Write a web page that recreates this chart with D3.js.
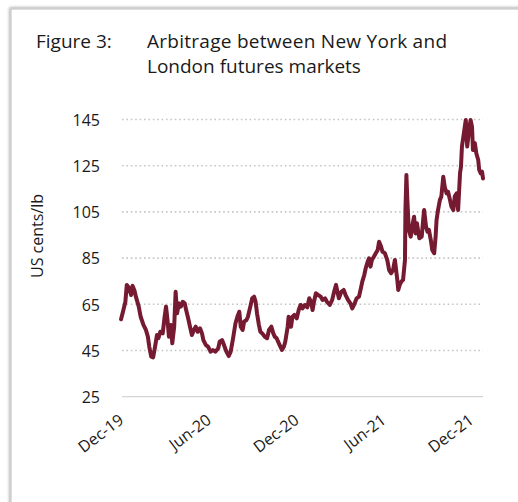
<!DOCTYPE html>
<html>
<head>
<meta charset="utf-8">
<script src="https://cdn.jsdelivr.net/npm/d3@7/dist/d3.min.js"></script>
<style>
  html, body { margin: 0; padding: 0; background: #fff; }
  svg { display: block; }
</style>
</head>
<body>
<div id="chart"></div>
<script>
// ---- Data ----
const titleLines = ["Arbitrage between New York and", "London futures markets"];
const figureLabel = "Figure 3:";
const yAxisTitle = "US cents/lb";
const yTicks = [25, 45, 65, 85, 105, 125, 145];
const xTickDates = ["2019-12-01", "2020-06-01", "2020-12-01", "2021-06-01", "2021-12-01"];
const xTickLabels = ["Dec-19", "Jun-20", "Dec-20", "Jun-21", "Dec-21"];

const dates = [
"2019-11-29","2019-12-03","2019-12-08","2019-12-11","2019-12-16","2019-12-20","2019-12-23","2019-12-27","2019-12-30",
"2020-01-05","2020-01-09","2020-01-15","2020-01-20","2020-01-24","2020-01-27","2020-01-31",
"2020-02-04","2020-02-08","2020-02-12","2020-02-15","2020-02-19","2020-02-24","2020-02-28",
"2020-03-02","2020-03-05","2020-03-08","2020-03-12","2020-03-15","2020-03-19","2020-03-22","2020-03-25","2020-03-29",
"2020-04-02","2020-04-06","2020-04-10","2020-04-13","2020-04-18","2020-04-21","2020-04-25","2020-04-29",
"2020-05-03","2020-05-07","2020-05-12","2020-05-16","2020-05-19","2020-05-24","2020-05-29",
"2020-06-03","2020-06-08","2020-06-13","2020-06-19","2020-06-22","2020-06-27",
"2020-07-01","2020-07-06","2020-07-11","2020-07-15","2020-07-20","2020-07-25","2020-07-29",
"2020-08-02","2020-08-05","2020-08-09","2020-08-12","2020-08-17","2020-08-20","2020-08-25","2020-08-29",
"2020-09-02","2020-09-05","2020-09-08","2020-09-12","2020-09-15","2020-09-19","2020-09-24","2020-09-29",
"2020-10-03","2020-10-08","2020-10-12","2020-10-15","2020-10-19","2020-10-22","2020-10-27","2020-10-30",
"2020-11-03","2020-11-06","2020-11-11","2020-11-13","2020-11-18","2020-11-21","2020-11-25","2020-11-30",
"2020-12-04","2020-12-08","2020-12-12","2020-12-17","2020-12-22","2020-12-26","2020-12-30",
"2021-01-02","2021-01-05","2021-01-09","2021-01-14","2021-01-19","2021-01-23","2021-01-28",
"2021-02-01","2021-02-07","2021-02-12","2021-02-16","2021-02-20","2021-02-23","2021-02-26",
"2021-03-03","2021-03-08","2021-03-12","2021-03-17","2021-03-22","2021-03-26","2021-03-31",
"2021-04-04","2021-04-09","2021-04-13","2021-04-16","2021-04-20","2021-04-23","2021-04-27","2021-04-30",
"2021-05-03","2021-05-06","2021-05-10","2021-05-14","2021-05-18","2021-05-21","2021-05-25","2021-05-28",
"2021-06-02","2021-06-07","2021-06-11","2021-06-15","2021-06-19","2021-06-23","2021-06-28","2021-06-30",
"2021-07-03","2021-07-07","2021-07-10","2021-07-14","2021-07-15","2021-07-17","2021-07-19","2021-07-22","2021-07-26","2021-07-29",
"2021-08-02","2021-08-05","2021-08-08","2021-08-13","2021-08-18","2021-08-21","2021-08-23","2021-08-27","2021-08-30",
"2021-09-02","2021-09-06","2021-09-09","2021-09-13","2021-09-16","2021-09-18","2021-09-21","2021-09-25","2021-09-28",
"2021-10-02","2021-10-05","2021-10-09","2021-10-12","2021-10-16","2021-10-19","2021-10-23","2021-10-26","2021-10-30",
"2021-11-02","2021-11-06","2021-11-08","2021-11-10","2021-11-14","2021-11-18","2021-11-21","2021-11-24","2021-11-28",
"2021-12-01","2021-12-03","2021-12-07","2021-12-10","2021-12-14","2021-12-16","2021-12-19","2021-12-22","2021-12-24"
];

const arbitrage = [
58.5,61.8,66,73.4,72,69,73,71,68.3,
64,59.6,56,53.9,51,46.6,42.3,
42,46.6,51.7,50.3,53.1,52.4,59.6,
64,58.2,51,56,48.1,55.3,70.4,61.1,65.4,
64,66.1,65.4,62.5,58.2,55.3,51.7,53.9,
55.3,53.1,54.6,52.4,49.5,47.4,46.6,
44.5,45.2,44.5,46,48.8,49.5,
47.4,44.5,42.6,44.5,50.3,56.8,59.6,
61.8,55.3,53.9,57.5,58.2,59.6,64,67.6,
68.3,66.1,61.1,56,53.1,52.4,51,50.3,
53.9,55.3,52.4,51,50.3,48.8,46.6,45.2,
46.6,48.8,55.3,59.6,55.3,59.6,60.4,58.9,
62.5,64.7,63.2,64.7,63.7,67.6,66.1,
62.5,66.1,69.8,69,68.3,66.9,67.6,
66.1,64.7,66.9,70.4,73.4,70.4,67.6,
70.4,71.2,69,66.9,65.4,63.2,65.4,
67.6,68.3,72,74.9,77.7,80.6,83.4,84.9,
81.3,84.2,85.6,87.1,88.5,92.1,90,87.8,
87.1,84.2,79.8,78.4,79.8,84.2,75.5,71.2,
73.4,75,75.5,84.2,105.8,121,110,97.2,94.3,98.6,
102.9,95.7,100.1,93.6,94.3,101.5,105.8,98.6,96.4,
97.2,92.8,88.5,87.1,94.3,101.5,105.8,110.2,111.7,
120.2,115.9,113,113.7,110.2,107.3,105.8,111.7,113,
105.8,121.7,124.6,133.3,139,144.8,133.3,139,144.8,
141.9,131.8,134.7,130.4,127.5,123.2,121.7,122.4,119.5
];

// ---- Layout ----
const W = 518, H = 502;
const plot = { left: 122, right: 483, top: 119.5, bottom: 396.7 };
const parse = d3.timeParse("%Y-%m-%d");

const svg = d3.select("#chart").append("svg")
  .attr("width", W).attr("height", H)
  .style("font-family", "'Open Sans', 'Noto Sans', sans-serif");

// frame with soft shadow
const defs = svg.append("defs");
const f = defs.append("filter").attr("id", "sh").attr("x", "-5%").attr("y", "-5%").attr("width", "110%").attr("height", "110%");
f.append("feGaussianBlur").attr("in", "SourceAlpha").attr("stdDeviation", 1.5).attr("result", "b");
f.append("feOffset").attr("in", "b").attr("dx", -1).attr("dy", -1).attr("result", "o");
f.append("feComponentTransfer").attr("in", "o").attr("result", "oc")
  .append("feFuncA").attr("type", "linear").attr("slope", 0.35);
const m = f.append("feMerge");
m.append("feMergeNode").attr("in", "oc");
m.append("feMergeNode").attr("in", "SourceGraphic");

svg.append("rect")
  .attr("x", 11).attr("y", 9).attr("width", W + 20).attr("height", H + 20)
  .attr("fill", "#fff").attr("stroke", "#c8c8c8").attr("stroke-width", 1.2)
  .attr("filter", "url(#sh)");

// ---- Scales ----
const x = d3.scaleTime()
  .domain([parse(xTickDates[0]), parse(xTickDates[xTickDates.length - 1])])
  .range([plot.left, 472]);
const y = d3.scaleLinear().domain([25, 145]).range([plot.bottom, plot.top]);

// ---- Title ----
const title = svg.append("g").attr("fill", "#1a1a1a").style("font-size", "19px");
title.append("text").attr("x", 36).attr("y", 48).text(figureLabel);
title.selectAll("text.t").data(titleLines).enter().append("text")
  .attr("class", "t")
  .attr("x", 147).attr("y", (d, i) => 48 + i * 25)
  .attr("textLength", (d, i) => i === 0 ? 300 : null)
  .text(d => d);

// ---- Gridlines ----
const grid = svg.append("g");
grid.selectAll("line").data(yTicks).enter().append("line")
  .attr("x1", plot.left).attr("x2", plot.right)
  .attr("y1", d => y(d)).attr("y2", d => y(d))
  .attr("stroke", d => d === 25 ? "#d4d4d4" : "#c6c6c6")
  .attr("stroke-width", d => d === 25 ? 1.2 : 1.6)
  .attr("stroke-dasharray", d => d === 25 ? null : "1.6,2.8");

// ---- Y axis ----
const yAxis = d3.axisLeft(y).tickValues(yTicks).tickSize(0).tickPadding(0);
const yg = svg.append("g").attr("transform", "translate(100,0)").call(yAxis);
yg.select(".domain").remove();
yg.selectAll("text").attr("fill", "#1a1a1a").style("font-size", "16px")
  .style("font-family", "'Open Sans', sans-serif").attr("dy", "0.36em");

svg.append("text")
  .attr("transform", "translate(43,236) rotate(-90)")
  .attr("text-anchor", "middle")
  .attr("fill", "#1a1a1a").style("font-size", "16px")
  .text(yAxisTitle);

// ---- X axis ----
const xAxis = d3.axisBottom(x)
  .tickValues(xTickDates.map(parse))
  .tickFormat((d, i) => xTickLabels[i])
  .tickSize(0).tickPadding(0);
const xg = svg.append("g").attr("transform", `translate(0,${plot.bottom + 10})`).call(xAxis);
xg.select(".domain").remove();
xg.selectAll("text")
  .attr("fill", "#1a1a1a").style("font-size", "16px")
  .style("font-family", "'Open Sans', sans-serif")
  .attr("text-anchor", "end")
  .attr("dy", "0.75em").attr("y", 0)
  .attr("transform", "translate(-5,6) rotate(-37)");

// ---- Line ----
const series = dates.map((d, i) => ({ date: parse(d), value: arbitrage[i] }));
svg.append("path")
  .datum(series)
  .attr("fill", "none")
  .attr("stroke", "#751a30")
  .attr("stroke-width", 4)
  .attr("stroke-linejoin", "round")
  .attr("stroke-linecap", "round")
  .attr("d", d3.line().x(d => x(d.date)).y(d => y(d.value)));
</script>
</body>
</html>
